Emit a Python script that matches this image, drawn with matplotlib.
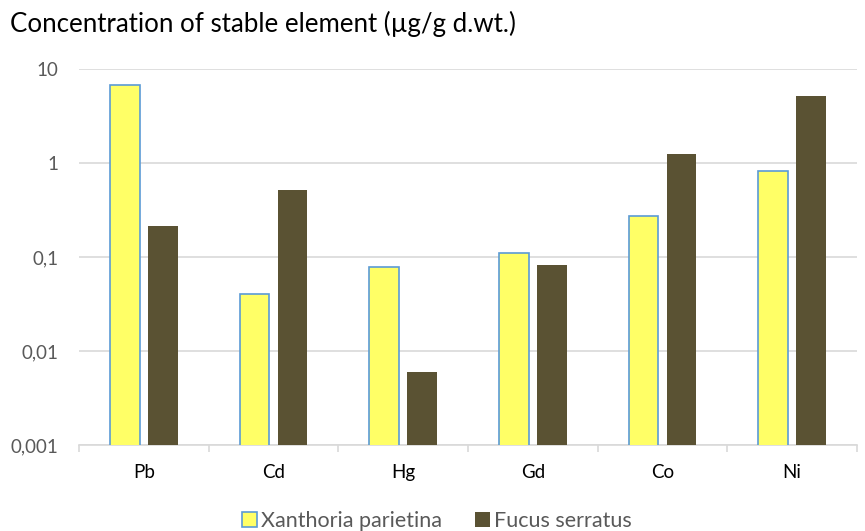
import numpy as np
import matplotlib.pyplot as plt

elements = ["Pb", "Cd", "Hg", "Gd", "Co", "Ni"]
xanthoria = [6.7, 0.040, 0.079, 0.111, 0.276, 0.83]
fucus = [0.214, 0.51, 0.0060, 0.0826, 1.25, 5.14]
ytick_vals = [0.001, 0.01, 0.1, 1, 10]
ytick_labels = ["0,001", "0,01", "0,1", "1", "10"]

plt.rcParams['font.family'] = ['Lato', 'DejaVu Sans']

fig = plt.figure(figsize=(8.65, 5.31), dpi=100)
ax = fig.add_axes([79 / 865, 1 - 445 / 531, (857 - 79) / 865, (445 - 69) / 531])

x = np.arange(len(elements))
w = 0.23
ax.bar(x - 0.147, xanthoria, w, color='#ffff66', edgecolor='#5b9bd5', linewidth=1.2,
       label='Xanthoria parietina', zorder=3)
ax.bar(x + 0.147, fucus, w, color='#5a5233', label='Fucus serratus', zorder=3)

ax.set_yscale('log')
ax.set_ylim(0.001, 10)
ax.set_xlim(-0.5, len(elements) - 0.5)
ax.set_yticks(ytick_vals)
ax.set_yticklabels(ytick_labels)
ax.yaxis.set_minor_locator(plt.NullLocator())
ax.tick_params(axis='y', length=0, pad=15, labelsize=13.5, labelcolor='#595959')
ax.grid(axis='y', color='#d9d9d9', linewidth=1.2, zorder=0)

ax.set_xticks(x)
ax.set_xticklabels(elements)
ax.tick_params(axis='x', length=0, pad=14, labelsize=13.5, labelcolor='black')
ax.set_xticks(np.arange(len(elements) + 1) - 0.5, minor=True)
ax.tick_params(axis='x', which='minor', length=5, color='#d9d9d9', width=1.2)

for s in ['top', 'right', 'left']:
    ax.spines[s].set_visible(False)
ax.spines['bottom'].set_color('#d9d9d9')
ax.spines['bottom'].set_linewidth(1.2)

fig.text(10 / 865, 1 - 32 / 531, 'Concentration of stable element (µg/g d.wt.)',
         fontsize=18.6, va='baseline', ha='left', color='black')

fig.legend(loc='center', bbox_to_anchor=(437 / 865, 1 - 521 / 531), ncol=2, frameon=False,
           fontsize=15.5, handlelength=0.7, handleheight=0.7, handletextpad=0.2,
           columnspacing=1.5, labelcolor='#595959', borderaxespad=0, borderpad=0)

fig.savefig('out.png', dpi=100)
